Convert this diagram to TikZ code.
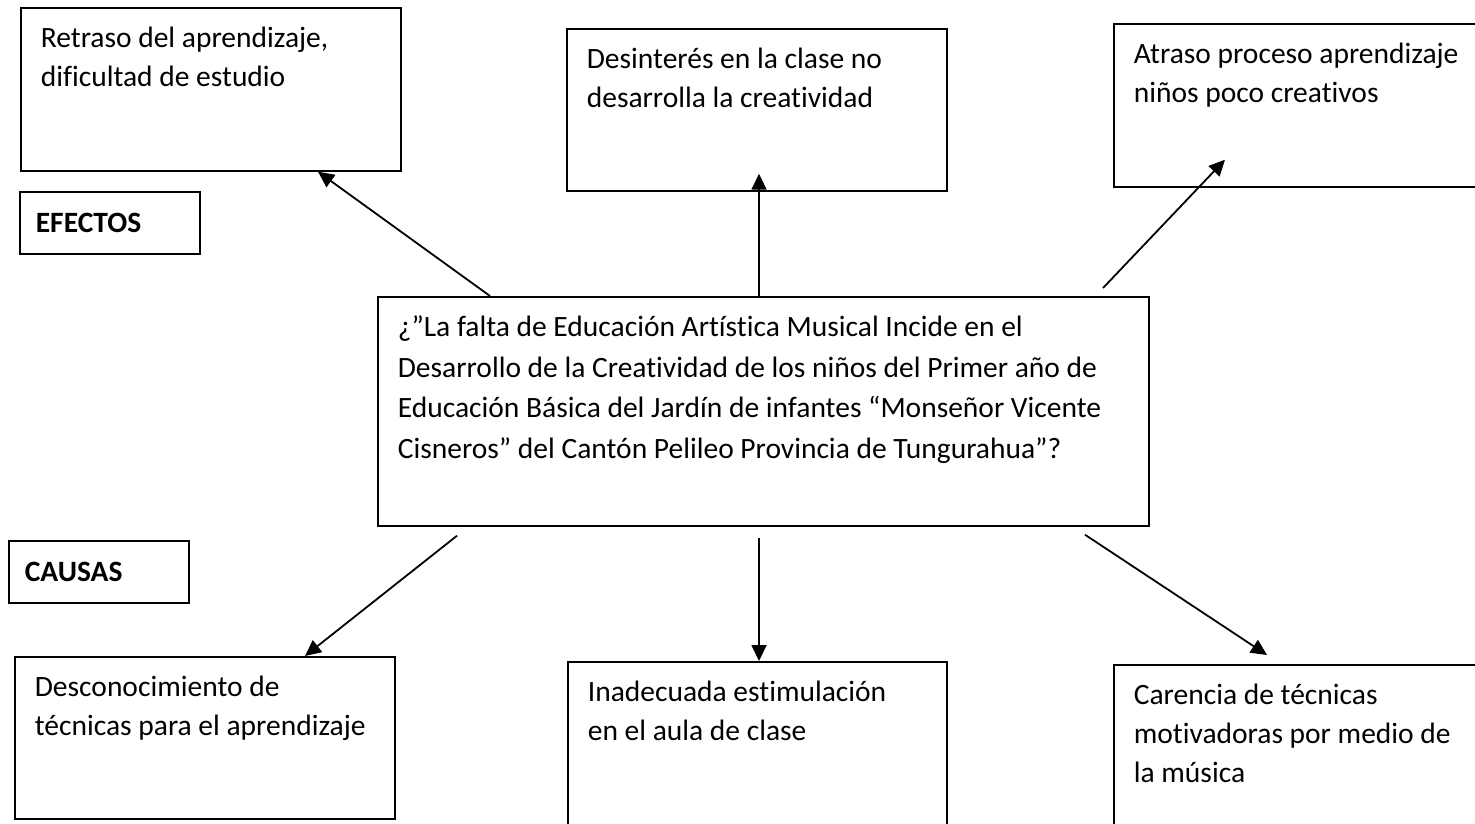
\documentclass[tikz,border=0pt]{standalone}
\usepackage{fontspec}
\setmainfont{Carlito}[Ligatures={TeX,NoCommon}]
\usetikzlibrary{arrows.meta}

\newcommand{\cajatexto}[3]{\parbox[c][#2][t]{#1}{\raggedright\rule{0pt}{40pt}#3}}

\begin{document}
\begin{tikzpicture}
  [
    x=1pt, y=-1pt,
    font=\fontsize{29.5}{39}\selectfont,
    caja/.style={draw, line width=1.7pt, anchor=north west, inner xsep=20pt, inner ysep=0pt},
    etiqueta/.style={draw, line width=1.7pt, anchor=north west, inner xsep=16pt, inner ysep=0pt,
      text width=148pt, minimum height=62pt, align=left, font=\fontsize{29.5}{39}\selectfont\bfseries},
    flecha/.style={line width=1.8pt, -{Triangle[length=16pt,width=15pt]}},
  ]

    \clip (0,0) rectangle (1475,823);

    % efectos
    \node [caja] (efecto1) at (20,7) {\cajatexto{340pt}{163pt}{Retraso del aprendizaje,\\ dificultad de estudio}};
    \node [caja] (efecto2) at (566,28) {\cajatexto{340pt}{162pt}{Desinterés en la clase no\\ desarrolla la creatividad}};
    \node [caja] (efecto3) at (1113,23) {\cajatexto{347pt}{163pt}{Atraso proceso aprendizaje\\ niños poco creativos}};
    \node [etiqueta] (efectos) at (19,191) {EFECTOS};

    % problema
    \node [caja, font=\fontsize{29.5}{40.5}\selectfont] (central) at (377,296) {\cajatexto{731pt}{229pt}{¿”La falta de Educación Artística Musical Incide en el\\
      Desarrollo de la Creatividad de los niños del Primer año de\\
      Educación Básica del Jardín de infantes “Monseñor Vicente\\
      Cisneros” del Cantón Pelileo Provincia de Tungurahua”?}};

    % causas
    \node [etiqueta] (causas) at (8,540) {CAUSAS};
    \node [caja] (causa1) at (14,656) {\cajatexto{340pt}{162pt}{Desconocimiento de\\ técnicas para el aprendizaje}};
    \node [caja] (causa2) at (567,661) {\cajatexto{339pt}{180pt}{Inadecuada estimulación\\ en el aula de clase}};
    \node [caja] (causa3) at (1113,664) {\cajatexto{347pt}{180pt}{Carencia de técnicas\\ motivadoras por medio de\\ la música}};

    % flechas hacia arriba
    \foreach \dx/\dy/\n/\ex/\ey in {113/0/efecto1/298/0, 382/0/efecto2/193/18, 726/8/efecto3/112/28} {
      \draw [flecha] ([xshift=\dx pt, yshift=\dy pt]central.north west) -- ([xshift=\ex pt, yshift=\ey pt]\n.south west);
    }
    % flechas hacia abajo
    \foreach \dx/\dy/\n/\ex/\ey in {80/9/causa1/291/0, 382/11/causa2/192/0, 708/8/causa3/154/9} {
      \draw [flecha] ([xshift=\dx pt, yshift=-\dy pt]central.south west) -- ([xshift=\ex pt, yshift=\ey pt]\n.north west);
    }
  \end{tikzpicture}
\end{document}
